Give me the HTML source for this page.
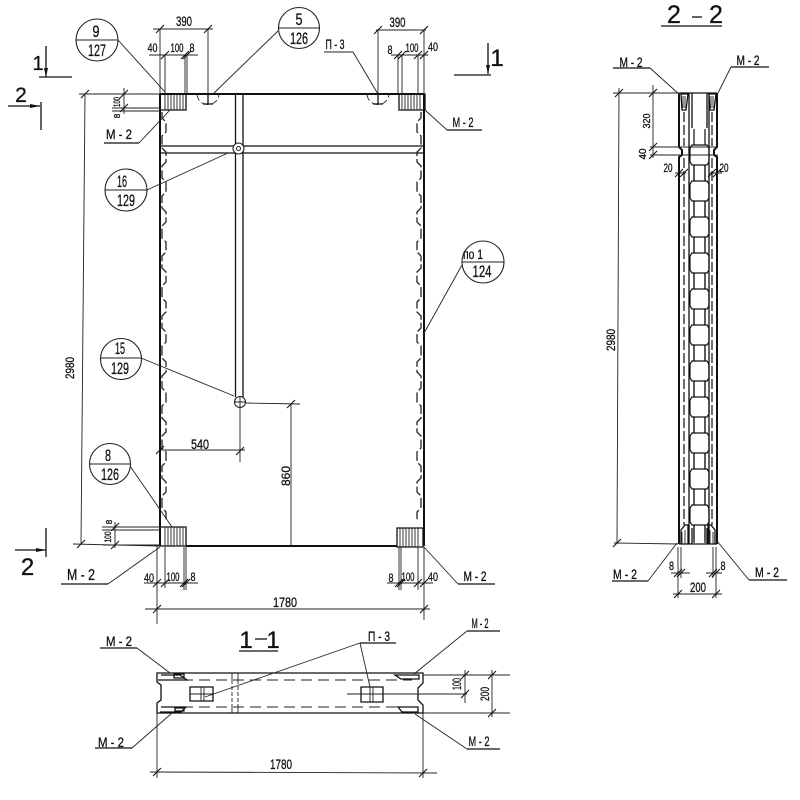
<!DOCTYPE html>
<html>
<head>
<meta charset="utf-8">
<title>Панель</title>
<style>
html,body{margin:0;padding:0;background:#fff}
svg{display:block}
text{font-family:"Liberation Sans",sans-serif;fill:#111;text-anchor:middle;stroke:#111;stroke-width:.3}
.s{font-size:12px}
.m{font-size:14px}
.l{font-size:17px}
.x{font-size:24px}
.thin{stroke:#222;stroke-width:.9;fill:none}
.med{stroke:#111;stroke-width:1.3;fill:none}
.thick{stroke:#111;stroke-width:2;fill:none}
.dash{stroke:#222;stroke-width:1.3;fill:none;stroke-dasharray:10 3}
.dl{stroke:#222;stroke-width:1.1;fill:none;stroke-dasharray:11 6}
.circ{stroke:#222;stroke-width:1.1;fill:#fff}
</style>
</head>
<body>
<svg width="800" height="800" viewBox="0 0 800 800" xmlns="http://www.w3.org/2000/svg">
<defs>
<path id="t" d="M-4 4L4-4" stroke="#111" stroke-width="1.1" fill="none"/>
<path id="key" d="M694 129v16M705 129v16M692 145h15l2 3v14l-2 3h-15l-2-3v-14zM694 165v16M705 165v16" stroke="#111" stroke-width="1.2" fill="none"/>
</defs>
<rect width="800" height="800" fill="#fff"/>

<!-- MAIN PANEL -->
<path class="thick" d="M160 94H424M160 94V546M424 94V546M186 546H397"/>
<path class="med" d="M160 146H424M160 153H424M235.500 94V397M243 94V397"/>
<path class="dash" d="M162 112v6l4 4v10l-4 4v6v6l4 4v10l-4 4v6v6l4 4v10l-4 4v6v6l4 4v10l-4 4v6v6l4 4v10l-4 4v6v6l4 4v10l-4 4v6v6l4 4v10l-4 4v6v6l4 4v10l-4 4v6v6l4 4v10l-4 4v6v6l4 4v10l-4 4v6v6l4 4v10l-4 4v6v6l4 4v10l-4 4v6v6l4 4v10l-4 4v6v6l4 4v10"/>
<path class="dash" d="M421 112v6l-4 4v10l4 4v6v6l-4 4v10l4 4v6v6l-4 4v10l4 4v6v6l-4 4v10l4 4v6v6l-4 4v10l4 4v6v6l-4 4v10l4 4v6v6l-4 4v10l4 4v6v6l-4 4v10l4 4v6v6l-4 4v10l4 4v6v6l-4 4v10l4 4v6v6l-4 4v10l4 4v6v6l-4 4v10l4 4v6v6l-4 4v10l4 4v6v6l-4 4v10"/>
<circle class="circ" cx="238.500" cy="148.500" r="5.500"/><circle cx="238.500" cy="148.500" r="2" fill="none" stroke="#222"/>
<circle class="circ" cx="240" cy="402" r="5.500"/><path class="thin" d="M234.500 402H246M240 396V408"/>

<!-- corner blocks -->
<path class="med" d="M160 94H186V110H160zM399 94H425V110H399zM160 527H186V546H160zM397 528H423V547H397z"/>
<path class="thin" d="M165 94v16M168 94v16M171 94v16M174 94v16M177 94v16M180 94v16M183 94v16M402 94v16M405 94v16M408 94v16M411 94v16M414 94v16M417 94v16M420 94v16M165 527v19M168 527v19M171 527v19M174 527v19M177 527v19M180 527v19M183 527v19M400 528v19M403 528v19M406 528v19M409 528v19M412 528v19M415 528v19M418 528v19"/>

<!-- loops -->
<path class="thin" stroke-dasharray="7 3" d="M197 94C198 108 218 108 219 94M367 94C368 108 388 108 389 94"/>
<path class="med" d="M208 94V104M203 104H213M378 94V104M373 104H383"/>

<!-- top dimensions -->
<path class="thin" d="M153 29H213M160 29V94M208 29V94M149 55H198M165 55V94M185 55V94M187 55V94M376 30H426M378 30V94M424 30V94M391 55H428M398 55V94M402 55V94M418 55V94"/>
<use href="#t" x="160" y="29"/><use href="#t" x="208" y="29"/><use href="#t" x="165" y="55"/><use href="#t" x="185" y="55"/><use href="#t" x="187" y="55"/>
<use href="#t" x="378" y="30"/><use href="#t" x="424" y="30"/><use href="#t" x="398" y="55"/><use href="#t" x="402" y="55"/><use href="#t" x="418" y="55"/><use href="#t" x="424" y="55"/>
<text class="m" x="184" y="26" textLength="16" lengthAdjust="spacingAndGlyphs">390</text>
<text class="s" x="152.500" y="52" textLength="10" lengthAdjust="spacingAndGlyphs">40</text>
<text class="s" x="177" y="52" textLength="13" lengthAdjust="spacingAndGlyphs">100</text>
<text class="s" x="192" y="52" textLength="5" lengthAdjust="spacingAndGlyphs">8</text>
<text class="m" x="397.500" y="27" textLength="16" lengthAdjust="spacingAndGlyphs">390</text>
<text class="s" x="390" y="54" textLength="5" lengthAdjust="spacingAndGlyphs">8</text>
<text class="s" x="412" y="52" textLength="13" lengthAdjust="spacingAndGlyphs">100</text>
<text class="s" x="433" y="51" textLength="10" lengthAdjust="spacingAndGlyphs">40</text>

<!-- callouts -->
<path class="thin" d="M118 40L165 92M278 31L213 94M147 190L228 153M141 358L234 396M130 466L172 527M462 265L423 335"/>
<g>
<circle class="circ" cx="97" cy="40" r="21"/><path class="thin" d="M76 40H118"/>
<text class="l" x="96" y="37" textLength="7" lengthAdjust="spacingAndGlyphs">9</text><text class="l" x="97" y="56" textLength="18" lengthAdjust="spacingAndGlyphs">127</text>
<circle class="circ" cx="299" cy="28" r="20.500"/><path class="thin" d="M278 28H319"/>
<text class="l" x="299" y="25" textLength="7" lengthAdjust="spacingAndGlyphs">5</text><text class="l" x="299" y="44" textLength="18" lengthAdjust="spacingAndGlyphs">126</text>
<circle class="circ" cx="126" cy="190" r="21"/><path class="thin" d="M105 190H147"/>
<text class="l" x="122" y="187" textLength="10" lengthAdjust="spacingAndGlyphs">16</text><text class="l" x="126" y="206" textLength="18" lengthAdjust="spacingAndGlyphs">129</text>
<circle class="circ" cx="121" cy="359" r="20.500"/><path class="thin" d="M100 358H141"/>
<text class="l" x="120" y="354" textLength="10" lengthAdjust="spacingAndGlyphs">15</text><text class="l" x="120" y="374" textLength="18" lengthAdjust="spacingAndGlyphs">129</text>
<circle class="circ" cx="110" cy="464" r="20.500"/><path class="thin" d="M89 464H130"/>
<text class="l" x="108" y="461" textLength="6" lengthAdjust="spacingAndGlyphs">8</text><text class="l" x="110" y="480" textLength="18" lengthAdjust="spacingAndGlyphs">126</text>
<circle class="circ" cx="483" cy="262" r="21"/><path class="thin" d="M462 262H504"/>
<text class="m" x="473" y="259" textLength="20" lengthAdjust="spacingAndGlyphs">по 1</text><text class="l" x="482" y="277" textLength="19" lengthAdjust="spacingAndGlyphs">124</text>
</g>

<!-- П-3 top -->
<path class="thin" d="M324 52H353L378 94"/>
<text class="m" x="335" y="49" textLength="19" lengthAdjust="spacingAndGlyphs">П - 3</text>

<!-- section marks -->
<path class="med" d="M46 46V77M39 77H72M488 43V74M454 75H491M8 106H40M41 102V130M15 550H46M46 528V557"/>
<path fill="#111" d="M44 68h4l-2 9zM486 65h4l-2 9zM30 104v4l10-2zM36 548v4l10-2z"/>
<text x="38" y="70" style="font-size:20px">1</text>
<text x="497" y="66" style="font-size:24px">1</text>
<text x="21" y="102" style="font-size:21px">2</text>
<text x="27.500" y="575" style="font-size:24px">2</text>

<!-- M-2 main -->
<path class="thin" d="M139 143L170 110M447 130L425 110M108 584L160 547M458 584L424 547"/>
<path class="med" d="M104 143H139M447 130H482M61 584H108M458 584H495"/>
<text class="m" x="119" y="139" textLength="26" lengthAdjust="spacingAndGlyphs">М - 2</text>
<text class="m" x="463" y="127" textLength="21" lengthAdjust="spacingAndGlyphs">М - 2</text>
<text class="m" x="81" y="580" textLength="28" lengthAdjust="spacingAndGlyphs" style="font-size:16px">М - 2</text>
<text class="m" x="475" y="581" textLength="23" lengthAdjust="spacingAndGlyphs">М - 2</text>

<!-- 2980 main -->
<path class="thin" d="M85 95L81 544M79 94H160M73 544L160 546"/>
<use href="#t" x="85" y="94"/><use href="#t" x="81" y="544"/>
<text class="s" transform="translate(74,368) rotate(-90)" textLength="22" lengthAdjust="spacingAndGlyphs">2980</text>

<!-- small left dims -->
<path class="thin" d="M124 88V114M112 108H160M112 111H160M102 527H160M102 530H160M115 522V548M103 545H160"/>
<use href="#t" x="124" y="94"/><use href="#t" x="124" y="108"/><use href="#t" x="115" y="527"/><use href="#t" x="115" y="545"/>
<text class="s" transform="translate(120,102) rotate(-90)" textLength="10" lengthAdjust="spacingAndGlyphs" style="font-size:9px">100</text>
<text class="s" transform="translate(120,116) rotate(-90)" style="font-size:8px">8</text>
<text class="s" transform="translate(111,537) rotate(-90)" textLength="11" lengthAdjust="spacingAndGlyphs" style="font-size:9px">100</text>
<text class="s" transform="translate(112,522) rotate(-90)" style="font-size:8px">8</text>

<!-- bottom dims main -->
<path class="thin" d="M144 583H198M157 546V624M165 547V588M184 547V590M186 547V590M387 583H433M399 547V590M401 547V590M418 547V590M424 547V620M145 609H430"/>
<use href="#t" x="157" y="583"/><use href="#t" x="165" y="583"/><use href="#t" x="184" y="583"/><use href="#t" x="186" y="583"/><use href="#t" x="399" y="583"/><use href="#t" x="401" y="583"/><use href="#t" x="418" y="583"/><use href="#t" x="424" y="583"/><use href="#t" x="157" y="609"/><use href="#t" x="424" y="609"/>
<text class="s" x="149" y="582" textLength="10" lengthAdjust="spacingAndGlyphs">40</text>
<text class="s" x="173" y="581" textLength="13" lengthAdjust="spacingAndGlyphs">100</text>
<text class="s" x="193" y="581" textLength="5" lengthAdjust="spacingAndGlyphs">8</text>
<text class="s" x="391" y="582" textLength="5" lengthAdjust="spacingAndGlyphs">8</text>
<text class="s" x="408" y="581" textLength="13" lengthAdjust="spacingAndGlyphs">100</text>
<text class="s" x="433" y="581" textLength="10" lengthAdjust="spacingAndGlyphs">40</text>
<text class="m" x="285" y="607" textLength="24" lengthAdjust="spacingAndGlyphs">1780</text>

<!-- 540 / 860 -->
<path class="thin" d="M160 450H245M240 402V462M246 403L300 404M291 404V546"/>
<use href="#t" x="160" y="450"/><use href="#t" x="240" y="451"/><use href="#t" x="291" y="404"/>
<text class="m" x="200" y="449" textLength="18" lengthAdjust="spacingAndGlyphs">540</text>
<text class="s" transform="translate(290,476) rotate(-90)" textLength="20" lengthAdjust="spacingAndGlyphs">860</text>

<!-- SECTION 2-2 -->
<text x="674" y="23" style="font-size:25px">2</text>
<path class="med" d="M692 17H702"/>
<text x="716" y="23" style="font-size:25px">2</text>
<path class="med" d="M661 26H722"/>
<path class="thick" d="M679 93V147L682 150V155L679 157V544M717 93V147L714 150V155L717 157V544"/>
<path class="med" d="M679 93H717M679 544H717M689 93V544M709 93V544M692 93V128M707 93V128M692 528V544M707 528V544"/>
<path class="dash" d="M684 112V146M684 158V525M712 112V146M712 158V525"/>
<path class="med" d="M681 94H688L686 110H682zM709 94H716L714 110H710zM681 544V530L685 525H688V544M715 544V530L711 525H708V544"/>
<path class="thin" d="M683 96V108M685 96V108M711 96V108M713 96V108M682 532V544M685 530V544M710 530V544M713 532V544M680 147H718M680 155H718"/>
<g fill="none">
<use href="#key"/><use href="#key" y="36"/><use href="#key" y="72"/><use href="#key" y="108"/><use href="#key" y="144"/><use href="#key" y="180"/><use href="#key" y="216"/><use href="#key" y="252"/><use href="#key" y="288"/><use href="#key" y="324"/><use href="#key" y="360"/>
</g>
<path stroke="#111" stroke-width="1.2" fill="none" d="M694 525V543M705 525V543"/>
<path class="thin" d="M613 93H680M619 88L617 544M614 543L678 544M653 85V158M650 147H680M650 155H680M675 173H686M710 173H722"/>
<use href="#t" x="619" y="93"/><use href="#t" x="617" y="543"/><use href="#t" x="653" y="93"/><use href="#t" x="653" y="147"/><use href="#t" x="653" y="155"/><use href="#t" x="679" y="173"/><use href="#t" x="684" y="173"/><use href="#t" x="712" y="173"/><use href="#t" x="717" y="173"/>
<text class="s" transform="translate(650,121) rotate(-90)" textLength="15" lengthAdjust="spacingAndGlyphs" style="font-size:10px">320</text>
<text class="s" transform="translate(646,154) rotate(-90)" textLength="11" lengthAdjust="spacingAndGlyphs" style="font-size:10px">40</text>
<text class="s" x="668" y="172" textLength="9" lengthAdjust="spacingAndGlyphs">20</text>
<text class="s" x="724" y="172" textLength="9" lengthAdjust="spacingAndGlyphs">20</text>
<text class="s" transform="translate(615,340) rotate(-90)" textLength="22" lengthAdjust="spacingAndGlyphs">2980</text>
<path class="thin" d="M650 68L680 95M731 67L718 93M648 581L677 543M749 580L717 541"/>
<path class="med" d="M613 68H650M731 67H769M612 581H648M749 580H787"/>
<text class="m" x="631" y="67" textLength="23" lengthAdjust="spacingAndGlyphs">М - 2</text>
<text class="m" x="748" y="65" textLength="23" lengthAdjust="spacingAndGlyphs">М - 2</text>
<text class="m" x="625" y="579" textLength="24" lengthAdjust="spacingAndGlyphs">М - 2</text>
<text class="m" x="767" y="577" textLength="24" lengthAdjust="spacingAndGlyphs">М - 2</text>
<path class="thin" d="M678 547V598M681 547V578M713 547V578M716 547V598M671 573H690M706 573H722M673 594H722"/>
<use href="#t" x="678" y="573"/><use href="#t" x="681" y="573"/><use href="#t" x="713" y="573"/><use href="#t" x="716" y="573"/><use href="#t" x="678" y="594"/><use href="#t" x="716" y="594"/>
<text class="s" x="671.500" y="570" textLength="5" lengthAdjust="spacingAndGlyphs">8</text>
<text class="s" x="723" y="570" textLength="5" lengthAdjust="spacingAndGlyphs">8</text>
<text class="m" x="698" y="592" textLength="16" lengthAdjust="spacingAndGlyphs">200</text>

<!-- SECTION 1-1 -->
<text x="246" y="648" style="font-size:24px">1</text>
<path class="med" d="M255 639H267"/>
<text x="273" y="648" style="font-size:24px">1</text>
<path class="med" d="M239 651H278"/>
<path class="med" d="M157 673H423V683L418 688V700L423 705V713H157V703L161 700V685L157 682Z"/>
<path class="dl" d="M165 680H412M165 707H412"/>
<path class="med" d="M161 675H180L187 680H158M161 707H186L181 712H160M174 674H184V678H174zM175 708H184V711H175zM395 675H419V679H401zM398 707H418V712H402z"/>
<path class="thin" d="M232 673V680M238 673V680M232 707V713M238 707V713"/>
<path class="thin" stroke-dasharray="4 2" d="M232 680V707M238 680V707"/>
<path class="med" d="M190 687H213V701H190zM361 687H383V702H361z"/>
<path class="thin" d="M201 687V701M204 687V701M190 694H213M370 687V702M373 687V702M347 694H467"/>
<!-- leaders 1-1 -->
<path class="thin" d="M137 648L170 673M132 748L172 713M467 631L414 674M467 749L415 714M360 643L370 687M360 643L205 697"/>
<path class="med" d="M100 648H137M95 748H132M467 631H500M467 749H500M360 643H396"/>
<text class="m" x="119" y="646" textLength="26" lengthAdjust="spacingAndGlyphs">М - 2</text>
<text class="m" x="111" y="747" textLength="26" lengthAdjust="spacingAndGlyphs">М - 2</text>
<text class="m" x="480" y="628" textLength="17" lengthAdjust="spacingAndGlyphs">М - 2</text>
<text class="m" x="479" y="746" textLength="21" lengthAdjust="spacingAndGlyphs">М - 2</text>
<text class="m" x="379" y="641" textLength="22" lengthAdjust="spacingAndGlyphs">П - 3</text>
<!-- dims 1-1 -->
<path class="thin" d="M423 675H510M423 694H467M423 713H510M465 670V703M492 670V717M157 713V778M423 713V778M150 772L437 773"/>
<use href="#t" x="465" y="675"/><use href="#t" x="465" y="694"/><use href="#t" x="492" y="675"/><use href="#t" x="492" y="713"/><use href="#t" x="157" y="772"/><use href="#t" x="423" y="773"/>
<text class="s" transform="translate(461,684) rotate(-90)" textLength="12" lengthAdjust="spacingAndGlyphs">100</text>
<text class="s" transform="translate(489,694) rotate(-90)" textLength="14" lengthAdjust="spacingAndGlyphs">200</text>
<text class="m" x="281" y="769" textLength="22" lengthAdjust="spacingAndGlyphs">1780</text>
</svg>
</body>
</html>
